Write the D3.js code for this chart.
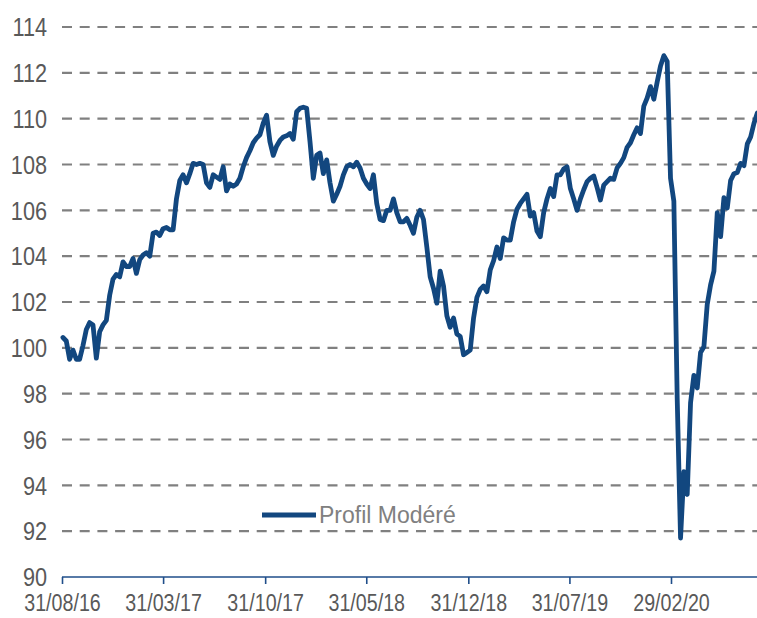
<html>
<head>
  <meta charset="utf-8">
  <script src="https://d3js.org/d3.v7.min.js"></script>
  <style>
    body { margin: 0; background: #fff; }
  </style>
</head>
<body>
<svg id="chart" width="757" height="618"></svg>
<script>
  // weekly values (Fridays), first one on 02/09/2016
  var firstDate = "2016-09-02";
  var seriesName = "Profil Modéré";
  var values = [
    100.45, 100.3, 99.5, 99.9, 99.5, 99.5, 100.1, 100.8, 101.1, 101.0,
    99.55, 100.7, 101.0, 101.2, 102.3, 103.0, 103.2, 103.1, 103.75, 103.55,
    103.55, 103.9, 103.25, 103.85, 104.05, 104.15, 104.0, 105.0, 105.05, 104.9,
    105.2, 105.25, 105.15, 105.15, 106.5, 107.3, 107.55, 107.2, 107.6, 108.05,
    108.0, 108.05, 108.0, 107.2, 107.0, 107.55, 107.45, 107.35, 107.9, 106.85,
    107.15, 107.05, 107.15, 107.4, 107.9, 108.3, 108.6, 108.95, 109.15, 109.3,
    109.8, 110.15, 109.0, 108.4, 108.8, 109.05, 109.2, 109.25, 109.35, 109.1,
    110.3, 110.45, 110.5, 110.45, 109.0, 107.4, 108.4, 108.5, 107.6, 108.2,
    107.2, 106.4, 106.7, 107.05, 107.55, 107.9, 108.0, 107.9, 108.1, 107.85,
    107.4, 107.15, 106.95, 107.55, 106.3, 105.6, 105.55, 106.0, 106.0, 106.5,
    105.9, 105.5, 105.5, 105.65, 105.35, 105.0, 105.7, 106.0, 105.6, 104.4,
    103.1, 102.6, 101.95, 103.35, 102.7, 101.4, 100.9, 101.3, 100.6, 100.5,
    99.7, 99.8, 99.9, 101.3, 102.2, 102.55, 102.7, 102.45, 103.4, 103.8,
    104.4, 103.9, 104.8, 104.7, 104.7, 105.5, 106.05, 106.3, 106.5, 106.7,
    105.75, 105.9, 105.1, 104.85, 105.9, 106.5, 106.95, 106.6, 107.55, 107.55,
    107.8, 107.9, 106.95, 106.5, 106.0, 106.5, 106.9, 107.25, 107.4, 107.5,
    107.0, 106.45, 107.1, 107.25, 107.4, 107.35, 107.85, 108.05, 108.3, 108.75,
    108.95, 109.3, 109.6, 109.35, 110.55, 110.9, 111.4, 110.85, 111.6, 112.3,
    112.75, 112.5, 107.4, 106.4, 97.8, 91.7, 94.6, 93.6, 97.6, 98.8,
    98.25, 99.8, 100.05, 101.9, 102.75, 103.35, 105.9, 104.85, 106.55, 106.1,
    107.3, 107.6, 107.65, 108.05, 107.95, 108.9, 109.2, 109.8, 110.25
  ];
  var yTicks = [90, 92, 94, 96, 98, 100, 102, 104, 106, 108, 110, 112, 114];
  var xTickDates = ["2016-08-31", "2017-03-31", "2017-10-31", "2018-05-31",
                    "2018-12-31", "2019-07-31", "2020-02-29"];

  var parse = d3.timeParse("%Y-%m-%d");
  var fmt = d3.timeFormat("%d/%m/%y");
  var t0 = parse(firstDate);
  var data = values.map((v, i) => ({ date: d3.timeDay.offset(t0, 7 * i), value: v }));
  var tickDates = xTickDates.map(parse);

  var svg = d3.select("#chart");
  var x = d3.scaleTime()
      .domain([tickDates[0], tickDates[tickDates.length - 1]])
      .range([62, 671]);
  var y = d3.scaleLinear().domain([90, 114]).range([577, 27]);

  var blue = "#12477f";
  var font = "'Liberation Sans', Arial, sans-serif";
  // no narrow font installed, so squeeze Arial-like text
  var squeezeX = "scale(0.82,1)";
  var squeezeY = "scale(0.85,1)";

  // dashed grid
  svg.append("g").selectAll("line").data(yTicks.filter(d => d > 90)).enter()
      .append("line")
      .attr("x1", 62).attr("x2", 757)
      .attr("y1", d => y(d)).attr("y2", d => y(d))
      .attr("stroke", "#808080").attr("stroke-width", 2.2)
      .attr("stroke-dasharray", "10,7.7");

  // y labels
  svg.append("g").selectAll("g").data(yTicks).enter()
      .append("g").attr("transform", d => "translate(47," + y(d) + ")")
      .append("text")
      .attr("transform", squeezeY)
      .attr("dy", "0.36em")
      .attr("text-anchor", "end")
      .attr("font-family", font).attr("font-size", 25.5)
      .attr("fill", "#595959")
      .text(d => d);

  // x axis
  var xAxis = svg.append("g").attr("transform", "translate(0,577)")
      .call(d3.axisBottom(x).tickValues(tickDates).tickFormat(fmt).tickSize(7).tickPadding(10));
  xAxis.select(".domain").attr("d", "M62,0H757").attr("stroke", "#1f4e8a").attr("stroke-width", 1.6);
  xAxis.selectAll(".tick line").attr("stroke", "#1f4e8a").attr("stroke-width", 1.6);
  xAxis.selectAll(".tick text")
      .attr("transform", squeezeX)
      .attr("font-family", font).attr("font-size", 24).attr("fill", "#595959");

  // series
  var line = d3.line().x(d => x(d.date)).y(d => y(d.value));
  svg.append("path").datum(data)
      .attr("d", line)
      .attr("fill", "none")
      .attr("stroke", blue).attr("stroke-width", 4.8)
      .attr("stroke-linejoin", "round").attr("stroke-linecap", "round");

  // legend
  var lg = svg.append("g").attr("transform", "translate(262,515)");
  lg.append("line").attr("x1", 0).attr("x2", 54).attr("y1", 0).attr("y2", 0)
      .attr("stroke", blue).attr("stroke-width", 4.8);
  lg.append("text").attr("x", 57).attr("y", 8)
      .attr("font-family", font).attr("font-size", 23)
      .attr("fill", "#808080")
      .text(seriesName);
</script>
</body>
</html>
